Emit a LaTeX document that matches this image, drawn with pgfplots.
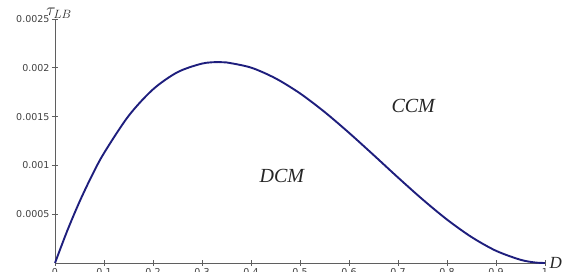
\documentclass[border=0pt]{standalone}
\usepackage{fontspec}
\setmainfont{Liberation Serif}
\newfontfamily\tickfont{DejaVu Sans}
\usepackage{pgfplots}
\pgfplotsset{compat=1.18}
\definecolor{curve}{RGB}{30,30,125}
\definecolor{axgray}{RGB}{95,95,95}
\begin{document}
\begin{tikzpicture}
\begin{axis}[
  scale only axis, width=490pt, height=244pt,
  xmin=0, xmax=1, ymin=0, ymax=0.0025,
  scaled y ticks=false, scaled x ticks=false,
  axis x line=bottom, axis y line=left,
  axis line style={-, axgray, line width=0.9pt},
  xtick={0,0.1,0.2,0.3,0.4,0.5,0.6,0.7,0.8,0.9,1},
  xticklabels={0,0.1,0.2,0.3,0.4,0.5,0.6,0.7,0.8,0.9,1},
  ytick={0.0005,0.001,0.0015,0.002,0.0025},
  yticklabels={0.0005,0.001,0.0015,0.002,0.0025},
  tick align=center, major tick length=6pt,
  tick style={axgray, line width=0.9pt},
  ticklabel style={font=\tickfont\fontsize{9.5}{10}\selectfont, text=black!75},
  xticklabel style={yshift=1pt},
  yticklabel style={xshift=1pt},
  clip=false,
]
\addplot[curve, line width=1.9pt, smooth] coordinates {
(0,0) (0.025,0.000330) (0.05,0.000627) (0.075,0.000892) (0.1,0.001126)
(0.15,0.001506) (0.2,0.001779) (0.25,0.001955) (0.3,0.002043) (0.333,0.002059)
(0.35,0.002055) (0.4,0.002002) (0.45,0.001892) (0.5,0.001738) (0.55,0.001548)
(0.6,0.001334) (0.65,0.001107) (0.7,0.000876) (0.75,0.000652) (0.8,0.000445)
(0.85,0.000266) (0.9,0.000125) (0.95,0.000033) (0.98,0.000005) (1,0)
};
\node[font=\fontsize{20}{22}\selectfont\itshape, text=black!85] at (axis cs:0.463,0.000891) {DCM};
\node[font=\fontsize{20}{22}\selectfont\itshape, text=black!85] at (axis cs:0.731,0.001609) {CCM};
\node[font=\fontsize{17}{19}\selectfont\itshape, text=black!85] at (axis cs:1,0) [anchor=west, xshift=1pt] {D};
\node[font=\fontsize{17}{19}\selectfont, text=black!85] at (axis cs:0,0.0025) [anchor=south, yshift=-3pt, xshift=4pt] {$\tau_{LB}$};
\end{axis}
\pgfresetboundingbox
\path[use as bounding box] (-55pt,-9pt) rectangle (510pt,263pt);
\end{tikzpicture}
\end{document}
